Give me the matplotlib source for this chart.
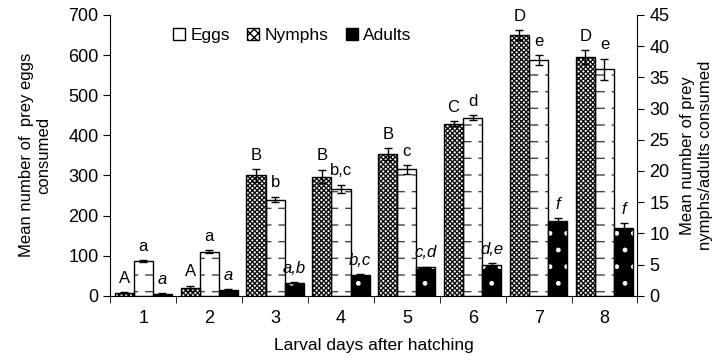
import matplotlib
matplotlib.use("Agg")
import matplotlib.pyplot as plt
import numpy as np
from matplotlib.patches import Patch

plt.rcParams['font.family'] = ['Liberation Sans', 'DejaVu Sans']
plt.rcParams['hatch.linewidth'] = 1.0

days = ['1', '2', '3', '4', '5', '6', '7', '8']
# Eggs (left axis)
eggs = [87, 110, 240, 266, 315, 444, 587, 565]
eggs_err = [2, 3, 7, 11, 11, 6, 12, 26]
eggs_lbl = ['a', 'a', 'b', 'b,c', 'c', 'd', 'e', 'e']
# Nymphs (right axis)
nymphs = [0.5, 1.2, 19.3, 19.1, 22.7, 27.6, 41.8, 38.2]
nymphs_err = [0.12, 0.45, 1.0, 1.1, 1.0, 0.35, 0.8, 1.1]
nymphs_lbl = ['A', 'A', 'B', 'B', 'B', 'C', 'D', 'D']
# Adults (right axis)
adults = [0.3, 0.9, 2.1, 3.3, 4.6, 5.0, 12.0, 10.8]
adults_err = [0.08, 0.15, 0.1, 0.2, 0.1, 0.3, 0.4, 0.8]
adults_lbl = ['a', 'a', 'a,b', 'b,c', 'c,d', 'd,e', 'f', 'f']

fig = plt.figure(figsize=(7.26, 3.63), dpi=100)
ax = fig.add_axes([0.152, 0.185, 0.726, 0.774])
ax2 = ax.twinx()

x = np.arange(1, len(days) + 1)
w = 0.29


def draw(a, xs, vals, errs, face, hatch, hcolor, extra=None):
    a.bar(xs, vals, w, color=face, edgecolor=hcolor, hatch=hatch, linewidth=0, zorder=2)
    if extra is not None:
        with plt.rc_context({'hatch.linewidth': extra[2]}):
            a.bar(xs, vals, w, color='none', edgecolor=extra[1], hatch=extra[0],
                  linewidth=0, zorder=2.5)
    a.bar(xs, vals, w, facecolor='none', edgecolor='black', linewidth=1.0, zorder=3)
    a.errorbar(xs, vals, yerr=errs, fmt='none', ecolor='black', elinewidth=1.0,
               capsize=3, capthick=1.0, zorder=4)


draw(ax2, x - w, nymphs, nymphs_err, 'white', 'xxxxxxx', '#111111')
draw(ax, x, eggs, eggs_err, 'white', '-', '#444444', extra=('|', 'white', 5.0))
draw(ax2, x + w, adults, adults_err, 'black', '.', 'white')

fs_l = 12
for xi, v, e, t in zip(x - w, nymphs, nymphs_err, nymphs_lbl):
    ax2.annotate(t, (xi, v + e), xytext=(0, 4.5), textcoords='offset points',
                 ha='center', va='bottom', fontsize=fs_l)
for xi, v, e, t in zip(x, eggs, eggs_err, eggs_lbl):
    ax.annotate(t, (xi, v + e), xytext=(0, 4.5), textcoords='offset points',
                ha='center', va='bottom', fontsize=fs_l)
for xi, v, e, t in zip(x + w, adults, adults_err, adults_lbl):
    ax2.annotate(t, (xi, v + e), xytext=(0, 4.5), textcoords='offset points',
                 ha='center', va='bottom', fontsize=fs_l, style='italic')

ax.set_xlim(0.5, len(days) + 0.5)
ax.set_ylim(0, 700)
ax2.set_ylim(0, 45)
ax.set_yticks(np.arange(0, 701, 100))
ax2.set_yticks(np.arange(0, 46, 5))
ax.set_xticks(x)
ax.set_xticklabels(days)
ax.set_xticks(np.arange(0.5, len(days) + 1, 1), minor=True)
ax.tick_params(axis='x', which='major', length=0, pad=10, labelsize=13)
ax.tick_params(axis='x', which='minor', length=5, direction='out')
ax.tick_params(axis='y', length=5, labelsize=13, direction='out')
ax2.tick_params(axis='y', length=5, labelsize=13, direction='out')

for a in (ax, ax2):
    a.spines['top'].set_visible(False)
ax2.spines['left'].set_visible(False)
ax2.spines['bottom'].set_visible(False)
ax.spines['right'].set_visible(False)

ax.set_xlabel('Larval days after hatching', fontsize=12.5, labelpad=8)
ax.set_ylabel('Mean number of  prey eggs\nconsumed', fontsize=12, labelpad=12)
ax2.set_ylabel('Mean number of prey\nnymphs/adults consumed', fontsize=12, labelpad=8)

handles = [Patch(facecolor='white', edgecolor='black', hatch='-', label='Eggs'),
           Patch(facecolor='white', edgecolor='black', hatch='xxxx', label='Nymphs'),
           Patch(facecolor='black', edgecolor='black', label='Adults')]
leg = ax.legend(handles=handles, loc='upper center', bbox_to_anchor=(0.345, 1.01), ncol=3,
                frameon=False, fontsize=12.5, handlelength=0.7, handleheight=0.7,
                handletextpad=0.3, columnspacing=1.0)

fig.savefig('out.png', dpi=100)
